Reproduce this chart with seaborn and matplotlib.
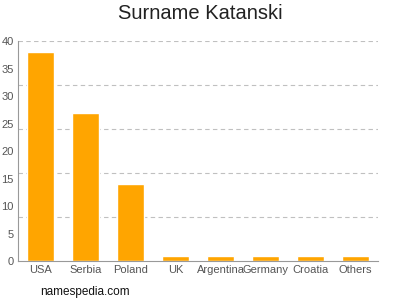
import matplotlib
matplotlib.use("Agg")
import matplotlib.pyplot as plt
import seaborn as sns
import pandas as pd

categories = ["USA", "Serbia", "Poland", "UK", "Argentina", "Germany", "Croatia", "Others"]
values = [38, 27, 14, 1, 1, 1, 1, 1]
yticks = [0, 5, 10, 15, 20, 25, 30, 35, 40]
gridlines = [8, 16, 24, 32, 40]

sns.set_style("white")
plt.rcParams['font.family'] = ['Liberation Sans', 'DejaVu Sans']

df = pd.DataFrame({"country": categories, "count": values})
fig = plt.figure(figsize=(4, 3), dpi=100)
ax = fig.add_axes([0.045, 0.13, 0.9, 0.733])
sns.barplot(data=df, x="country", y="count", color="#FFA500", saturation=1, width=0.6, ax=ax)

ax.set_ylim(0, 40)
ax.set_xlim(-0.5, len(categories) - 0.5)
ax.set_yticks(yticks)
for g in gridlines:
    ax.axhline(g, color="#c0c0c0", linestyle=(0, (4, 3)), linewidth=0.8, zorder=0)
ax.set_xlabel("")
ax.set_ylabel("")
for s in ["top", "right"]:
    ax.spines[s].set_visible(False)
for s in ["left", "bottom"]:
    ax.spines[s].set_color("#999999")
    ax.spines[s].set_linewidth(0.8)
ax.tick_params(axis="both", labelcolor="#555555", labelsize=8, length=2, width=0.6, pad=1, color="#999999")
ax.set_axisbelow(True)

fig.text(0.5, 0.955, "Surname Katanski", ha="center", va="center", fontsize=14.5, color="#222222")
fig.text(0.1, 0.028, "namespedia.com", ha="left", va="center", fontsize=8.5, color="#111111")

fig.savefig("out.png", dpi=100)
